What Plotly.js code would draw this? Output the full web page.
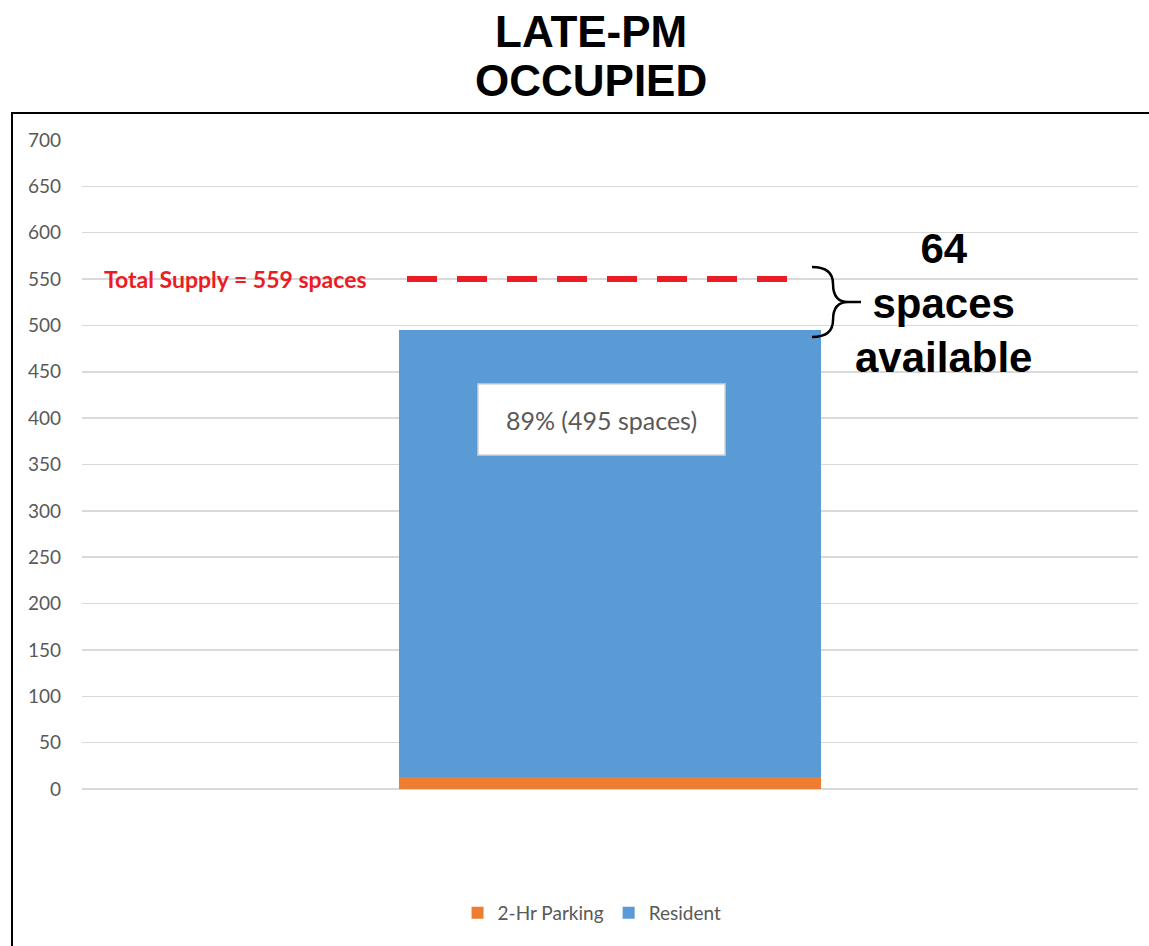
<!DOCTYPE html>
<html>
<head>
<meta charset="utf-8">
<script src="https://cdn.plot.ly/plotly-3.0.1.min.js"></script>
<style>
  html, body { margin: 0; padding: 0; background: #fff; }
  #chart { width: 1149px; height: 946px; }
</style>
</head>
<body>
<div id="chart"></div>
<script>
// ---- data ----
const categories = ['Late-PM'];
const seriesNames = ['2-Hr Parking', 'Resident'];
const twoHrParking = [13];
const resident = [482];
const supplyLineLevel = [550];     // where the dashed supply line sits on the axis
const totalSupply = 559;           // value quoted in the label
const titleLines = ['LATE-PM', 'OCCUPIED'];
const occupiedLabel = '89% (495 spaces)';
const availableLabel = '64<br>spaces<br>available';
const yTicks = [0, 50, 100, 150, 200, 250, 300, 350, 400, 450, 500, 550, 600, 650, 700];

const colors = { orange: '#ed7d31', blue: '#5b9bd5', red: '#ec1c24', grid: '#d9d9d9', text: '#595959' };

// plot-area geometry helpers (pixel -> axis coords) for decorations only
const PLOT = { left: 82, right: 1138, top: 140, bottom: 789, ymax: 700 };
const pxX = px => (px - (PLOT.left + PLOT.right) / 2) / (PLOT.right - PLOT.left);
const pxY = py => (PLOT.bottom - py) * PLOT.ymax / (PLOT.bottom - PLOT.top);
const paperX = px => (px - PLOT.left) / (PLOT.right - PLOT.left);
const paperY = py => (PLOT.bottom - py) / (PLOT.bottom - PLOT.top);
const P = (x, y) => pxX(x).toFixed(4) + ',' + pxY(y).toFixed(2);

const bracePath =
  'M' + P(812, 267) + ' Q' + P(833, 267) + ' ' + P(833, 284) +
  ' Q' + P(833, 302) + ' ' + P(848, 302) + ' L' + P(861, 302) +
  ' M' + P(848, 302) + ' Q' + P(833, 302) + ' ' + P(833, 320) +
  ' Q' + P(833, 337) + ' ' + P(812, 337);

const traces = [
  { type: 'bar', name: seriesNames[0], x: categories, y: twoHrParking,
    marker: { color: colors.orange }, hoverinfo: 'skip' },
  { type: 'bar', name: seriesNames[1], x: categories, y: resident,
    marker: { color: colors.blue }, hoverinfo: 'skip' }
];

const titleFont = { family: '"Liberation Sans", Arial, sans-serif', size: 44, color: '#000' };

const layout = {
  width: 1149, height: 946,
  paper_bgcolor: '#fff', plot_bgcolor: '#fff',
  margin: { l: PLOT.left, r: 1149 - PLOT.right, t: PLOT.top, b: 946 - PLOT.bottom },
  barmode: 'stack', bargap: 0.6,
  font: { family: 'Lato, "Open Sans", sans-serif', color: colors.text },
  xaxis: { type: 'category', range: [-0.5, 0.5], showticklabels: false, showgrid: false,
           zeroline: false, showline: false, ticks: '', fixedrange: true },
  yaxis: { range: [0, 700], tickvals: yTicks, ticktext: yTicks.map(String),
           showgrid: true, gridcolor: colors.grid, gridwidth: 1.5,
           zeroline: true, zerolinecolor: colors.grid, zerolinewidth: 2,
           showline: false, ticks: '', ticklabelstandoff: 20,
           tickfont: { family: 'Lato, sans-serif', size: 19, color: colors.text } },
  showlegend: true,
  legend: { orientation: 'h', x: 0.483, xanchor: 'center', y: paperY(913), yanchor: 'middle',
            traceorder: 'normal', font: { family: 'Lato, sans-serif', size: 19, color: colors.text },
            itemwidth: 30 },
  shapes: [
    // outer chart frame
    { type: 'rect', xref: 'paper', yref: 'paper', x0: paperX(12), x1: 1.03, y0: -0.3, y1: paperY(113),
      line: { color: '#000', width: 2 }, fillcolor: 'rgba(0,0,0,0)', layer: 'above' },
    // total supply dashed line
    { type: 'line', xref: 'x', yref: 'y', x0: pxX(407), x1: pxX(790),
      y0: supplyLineLevel[0], y1: supplyLineLevel[0],
      line: { color: colors.red, width: 6, dash: '30px,20px' } },
    // curly brace
    { type: 'path', xref: 'x', yref: 'y', path: bracePath, line: { color: '#000', width: 2.5 } }
  ],
  annotations: [
    { xref: 'paper', yref: 'paper', x: paperX(591), y: paperY(31), xanchor: 'center', yanchor: 'middle',
      text: '<b>' + titleLines[0] + '</b>', showarrow: false, font: titleFont },
    { xref: 'paper', yref: 'paper', x: paperX(591), y: paperY(80), xanchor: 'center', yanchor: 'middle',
      text: '<b>' + titleLines[1] + '</b>', showarrow: false, font: titleFont },
    { xref: 'paper', yref: 'y', x: paperX(235), y: supplyLineLevel[0], xanchor: 'center', yanchor: 'middle',
      text: '<b>Total Supply = ' + totalSupply + ' spaces</b>', showarrow: false,
      font: { family: 'Lato, sans-serif', size: 23, color: colors.red } },
    { xref: 'x', yref: 'y', x: 0, y: pxY(419), xshift: -9, xanchor: 'center', yanchor: 'middle',
      text: occupiedLabel, showarrow: false, width: 244, height: 68,
      bgcolor: '#fff', bordercolor: '#bfbfbf', borderwidth: 1.5,
      font: { family: 'Lato, sans-serif', size: 25, color: colors.text } },
    { xref: 'paper', yref: 'y', x: paperX(943), y: pxY(303), xanchor: 'center', yanchor: 'middle',
      text: '<b>' + availableLabel + '</b>', showarrow: false,
      font: { family: '"Liberation Sans", Arial, sans-serif', size: 42, color: '#000' } }
  ]
};

Plotly.newPlot('chart', traces, layout, { displayModeBar: false, staticPlot: true });
</script>
</body>
</html>
